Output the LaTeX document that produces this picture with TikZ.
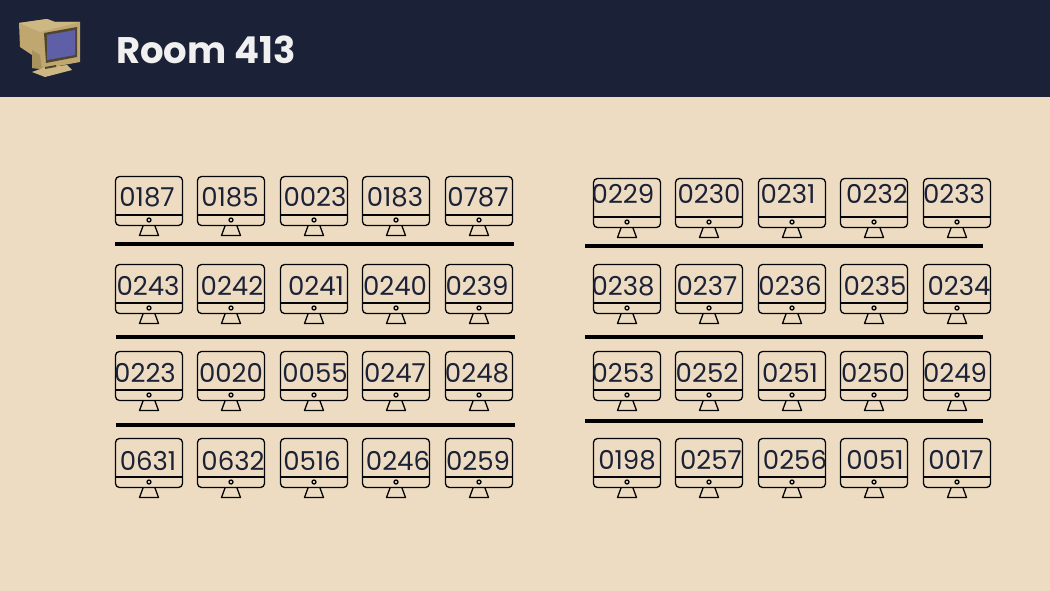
\documentclass[tikz,border=0pt]{standalone}
\usepackage{fontspec}
\setmainfont{Poppins}
\newfontfamily\titlefont{Poppins}
\definecolor{headerblue}{HTML}{1B2136}
\definecolor{roomsand}{HTML}{EDDCC2}
\definecolor{casetan}{HTML}{BFA76F}
\definecolor{casetop}{HTML}{CDB883}
\definecolor{caseshade}{HTML}{A8935F}
\definecolor{framedark}{HTML}{4F4630}
\definecolor{tubeblue}{HTML}{5F5FA8}
\tikzset{
    screenline/.style={draw=black!85!headerblue, line width=1.3pt, line join=round},
    numlabel/.style={text=headerblue, font=\fontsize{26}{26}\selectfont, inner sep=0pt, anchor=base, yshift=-9pt},
    rowbar/.style={line width=4.4pt, draw=black},
    pics/monitor/.style={code={
        \draw[screenline, rounded corners=4pt] (-33.5,0.5) rectangle (33.5,49.5);
        \draw[screenline] (-33.5,39) -- (33.5,39);
        \draw[screenline] (0,44) circle (2);
        \draw[screenline] (-6,50) -- (-9.5,59.5) -- (9.5,59.5) -- (6,50);
    }}
}
\begin{document}
\begin{tikzpicture}[x=1pt,y=-1pt]
    \useasboundingbox (0,0) rectangle (1050,591);
    \fill[roomsand] (0,0) rectangle (1050,591);
    \fill[headerblue] (0,0) rectangle (1050,97.5);

    % old computer in the header
    \fill[casetan] (19,23) -- (47,19) -- (55,22) -- (80,22) -- (80,62) -- (42,69) -- (32,68) -- (32,55) -- (20,47) -- cycle;
    \fill[casetop] (19,23) -- (47,19) -- (55,22) -- (80,22) -- (40,32) -- cycle;
    \fill[caseshade] (32,50) -- (40,55) -- (42,69) -- (32,68) -- cycle;
    \fill[casetop] (32,72) -- (43,68) -- (67,65) -- (72,70) -- (45,77) -- cycle;
    \fill[framedark] (44,33) -- (77,27) -- (77,57) -- (46,63) -- cycle;
    \fill[tubeblue] (47,35) -- (75,30) -- (75,55) -- (47,60) -- cycle;
    \fill[framedark] (45,67) -- (56,65) -- (56,67) -- (45,69) -- cycle;

    \node[anchor=base west, inner sep=0pt, text=white!94!black, font=\titlefont\bfseries\fontsize{37}{37}\selectfont] (roomtitle) at (116,63.5) {Room 413};

    % monitors: x, y, text x, text y, number
    \foreach \mx/\my/\tx/\ty/\lab in {
        149/176/147/197/0187, 231/176/230/197/0185, 314/176/315/197/0023, 396/176/395/197/0183, 479/176/478/197/0787,
        149/264/148/286/0243, 231/264/232/286/0242, 314/264/316/286/0241, 396/264/395/286/0240, 479/264/477/286/0239,
        149/351/145/373/0223, 231/351/231/373/0020, 314/351/315/373/0055, 396/351/395/373/0247, 479/351/477/373/0248,
        149/438/148/461/0631, 231/438/233/461/0632, 314/438/312/461/0516, 396/438/398/461/0246, 479/438/478/461/0259,
        627/178/623/195/0229, 709/178/709/195/0230, 792/178/788/195/0231, 874/178/877/195/0232, 957/178/954/195/0233,
        627/264/623/286/0238, 709/264/707/286/0237, 792/264/790/286/0236, 874/264/875/286/0235, 957/264/959/286/0234,
        627/351/623/373/0253, 709/351/707/373/0252, 792/351/790/373/0251, 874/351/873/373/0250, 957/351/955/373/0249,
        627/438/627/460/0198, 709/438/711/460/0257, 792/438/795/460/0256, 874/438/875/460/0051, 957/438/956/460/0017}
    {
        \pic at (\mx,\my) {monitor};
        \node[numlabel] (n\lab) at (\tx,\ty) {\lab};
    }

    % bars between the rows
    \draw[rowbar] (115,244) -- (514,244);
    \draw[rowbar] (116,337) -- (515,337);
    \draw[rowbar] (116,425) -- (515,425);
    \draw[rowbar] (585,246) -- (983,246);
    \draw[rowbar] (585,337) -- (983,337);
    \draw[rowbar] (585,421) -- (983,421);
\end{tikzpicture}
\end{document}
